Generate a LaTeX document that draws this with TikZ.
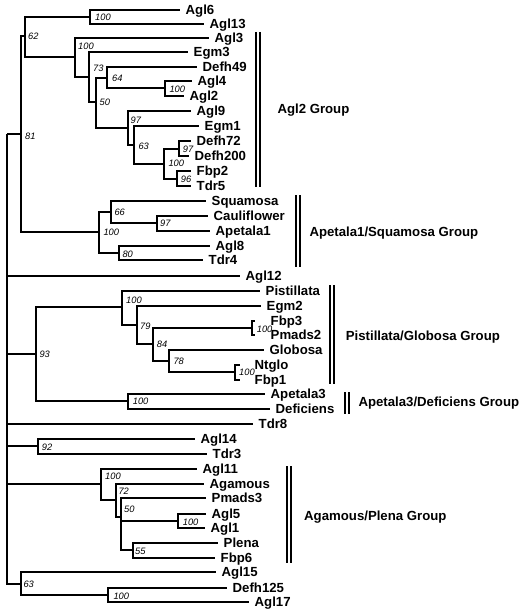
\documentclass[tikz,border=0pt]{standalone}
\usepackage{fontspec}
\setmainfont{Liberation Sans}
\begin{document}
\begin{tikzpicture}[x=1pt,y=-1pt,
  br/.style={line width=2pt, line join=miter},
  bar/.style={line width=1.8pt},
  leaf/.style={anchor=west, inner xsep=5.5pt, inner ysep=0pt, text height=9.4pt, text depth=0pt, font=\fontsize{13.2}{15}\selectfont\bfseries},
  grp/.style={anchor=west, inner sep=0pt, text height=9.4pt, text depth=0pt, font=\fontsize{13.2}{15}\selectfont\bfseries},
  bs/.style={anchor=west, inner sep=0pt, text height=6.4pt, text depth=0pt, font=\fontsize{9.3}{10}\selectfont\itshape}]
\useasboundingbox (0,0) rectangle (523,615);

% internal nodes
\coordinate (root) at (7,134);
\coordinate (n81) at (21,134);
\coordinate (n62) at (25,36);
\coordinate (n100a) at (90,17);
\coordinate (n100c) at (75,57);
\coordinate (n73) at (89,77);
\coordinate (n50a) at (96,102);
\coordinate (n64) at (107,78);
\coordinate (n100d) at (165,88);
\coordinate (n97a) at (128,128);
\coordinate (n63a) at (134,145);
\coordinate (n100e) at (164,164);
\coordinate (n97b) at (179,149);
\coordinate (n96) at (177,179);
\coordinate (n100b) at (99,232);
\coordinate (n66) at (111,212);
\coordinate (n97c) at (157,223);
\coordinate (n80) at (119,253);
\coordinate (n93) at (36,354);
\coordinate (n100f) at (122,307);
\coordinate (n79) at (137,325);
\coordinate (n84) at (153,344);
\coordinate (n100h) at (252,328);
\coordinate (n78) at (169,361);
\coordinate (n100i) at (235,372);
\coordinate (n100g) at (128,401);
\coordinate (n92) at (38,446);
\coordinate (n100j) at (101,484);
\coordinate (n72) at (116,500);
\coordinate (n50b) at (121,517);
\coordinate (n100k) at (178,521);
\coordinate (n55) at (133,550);
\coordinate (n63b) at (21,584);
\coordinate (n100l) at (108,595);

% leaves
\node[leaf] (Agl6) at (180,10) {Agl6};
\node[leaf] (Agl13) at (204,24) {Agl13};
\node[leaf] (Agl3) at (209,38) {Agl3};
\node[leaf] (Egm3) at (188,52) {Egm3};
\node[leaf] (Defh49) at (197,67) {Defh49};
\node[leaf] (Agl4) at (192,81) {Agl4};
\node[leaf] (Agl2) at (184,96) {Agl2};
\node[leaf] (Agl9) at (191,111) {Agl9};
\node[leaf] (Egm1) at (199,126) {Egm1};
\node[leaf] (Defh72) at (191,141) {Defh72};
\node[leaf] (Defh200) at (189,156) {Defh200};
\node[leaf] (Fbp2) at (191,171) {Fbp2};
\node[leaf] (Tdr5) at (191,186) {Tdr5};
\node[leaf] (Squamosa) at (206,201) {Squamosa};
\node[leaf] (Cauliflower) at (208,216) {Cauliflower};
\node[leaf] (Apetala1) at (210,231) {Apetala1};
\node[leaf] (Agl8) at (210,246) {Agl8};
\node[leaf] (Tdr4) at (203,260) {Tdr4};
\node[leaf] (Agl12) at (240,276) {Agl12};
\node[leaf] (Pistillata) at (260,291) {Pistillata};
\node[leaf] (Egm2) at (261,306) {Egm2};
\node[leaf, inner xsep=15.5pt] (Fbp3) at (255,321) {Fbp3};
\node[leaf, inner xsep=15.5pt] (Pmads2) at (255,335) {Pmads2};
\node[leaf] (Globosa) at (264,350) {Globosa};
\node[leaf, inner xsep=14.5pt] (Ntglo) at (240,365) {Ntglo};
\node[leaf, inner xsep=14.5pt] (Fbp1) at (240,380) {Fbp1};
\node[leaf] (Apetala3) at (265,394) {Apetala3};
\node[leaf] (Deficiens) at (270,409) {Deficiens};
\node[leaf] (Tdr8) at (253,424) {Tdr8};
\node[leaf] (Agl14) at (195,439) {Agl14};
\node[leaf] (Tdr3) at (207,454) {Tdr3};
\node[leaf] (Agl11) at (197,469) {Agl11};
\node[leaf] (Agamous) at (204,484) {Agamous};
\node[leaf] (Pmads3) at (206,498) {Pmads3};
\node[leaf] (Agl5) at (206,514) {Agl5};
\node[leaf] (Agl1) at (205,528) {Agl1};
\node[leaf] (Plena) at (218,543) {Plena};
\node[leaf] (Fbp6) at (215,558) {Fbp6};
\node[leaf] (Agl15) at (216,572) {Agl15};
\node[leaf] (Defh125) at (227,588) {Defh125};
\node[leaf] (Agl17) at (249,602) {Agl17};

% branches
\draw[br] (root) |- (n81);
\draw[br] (root) |- (Agl12.west);
\draw[br] (root) |- (n93);
\draw[br] (root) |- (Tdr8.west);
\draw[br] (root) |- (n92);
\draw[br] (root) |- (n100j);
\draw[br] (root) |- (n63b);

\draw[br] (n81) |- (n62);
\draw[br] (n81) |- (n100b);
\draw[br] (n62) |- (n100a);
\draw[br] (n62) |- (n100c);
\draw[br] (n100a) |- (Agl6.west);
\draw[br] (n100a) |- (Agl13.west);
\draw[br] (n100c) |- (Agl3.west);
\draw[br] (n100c) |- (n73);
\draw[br] (n73) |- (Egm3.west);
\draw[br] (n73) |- (n50a);
\draw[br] (n50a) |- (n64);
\draw[br] (n50a) |- (n97a);
\draw[br] (n64) |- (Defh49.west);
\draw[br] (n64) |- (n100d);
\draw[br] (n100d) |- (Agl4.west);
\draw[br] (n100d) |- (Agl2.west);
\draw[br] (n97a) |- (Agl9.west);
\draw[br] (n97a) |- (n63a);
\draw[br] (n63a) |- (Egm1.west);
\draw[br] (n63a) |- (n100e);
\draw[br] (n100e) |- (n97b);
\draw[br] (n100e) |- (n96);
\draw[br] (n97b) |- (Defh72.west);
\draw[br] (n97b) |- (Defh200.west);
\draw[br] (n96) |- (Fbp2.west);
\draw[br] (n96) |- (Tdr5.west);

\draw[br] (n100b) |- (n66);
\draw[br] (n100b) |- (n80);
\draw[br] (n66) |- (Squamosa.west);
\draw[br] (n66) |- (n97c);
\draw[br] (n97c) |- (Cauliflower.west);
\draw[br] (n97c) |- (Apetala1.west);
\draw[br] (n80) |- (Agl8.west);
\draw[br] (n80) |- (Tdr4.west);

\draw[br] (n93) |- (n100f);
\draw[br] (n93) |- (n100g);
\draw[br] (n100f) |- (Pistillata.west);
\draw[br] (n100f) |- (n79);
\draw[br] (n79) |- (Egm2.west);
\draw[br] (n79) |- (n84);
\draw[br] (n84) |- (n100h);
\draw[br] (n84) |- (n78);
\draw[br] (n100h) |- (Fbp3.west);
\draw[br] (n100h) |- (Pmads2.west);
\draw[br] (n78) |- (Globosa.west);
\draw[br] (n78) |- (n100i);
\draw[br] (n100i) |- (Ntglo.west);
\draw[br] (n100i) |- (Fbp1.west);
\draw[br] (n100g) |- (Apetala3.west);
\draw[br] (n100g) |- (Deficiens.west);

\draw[br] (n92) |- (Agl14.west);
\draw[br] (n92) |- (Tdr3.west);

\draw[br] (n100j) |- (Agl11.west);
\draw[br] (n100j) |- (n72);
\draw[br] (n72) |- (Agamous.west);
\draw[br] (n72) |- (n50b);
\draw[br] (n50b) |- (Pmads3.west);
\draw[br] (n50b) |- (n100k);
\draw[br] (n50b) |- (n55);
\draw[br] (n100k) |- (Agl5.west);
\draw[br] (n100k) |- (Agl1.west);
\draw[br] (n55) |- (Plena.west);
\draw[br] (n55) |- (Fbp6.west);

\draw[br] (n63b) |- (Agl15.west);
\draw[br] (n63b) |- (n100l);
\draw[br] (n100l) |- (Defh125.west);
\draw[br] (n100l) |- (Agl17.west);

% bootstrap values
\node[bs] (b100a) at (95,17) {100};
\node[bs] (b62) at (28,36.7) {62};
\node[bs] (b100c) at (78,46.7) {100};
\node[bs] (b73) at (93,68.3) {73};
\node[bs] (b64) at (112,78.3) {64};
\node[bs] (b100d) at (169.3,89.3) {100};
\node[bs] (b50a) at (99.5,102.7) {50};
\node[bs] (b97a) at (130.5,120) {97};
\node[bs] (b63a) at (138.3,146) {63};
\node[bs] (b100e) at (168.3,163.3) {100};
\node[bs] (b97b) at (182.7,149.3) {97};
\node[bs] (b96) at (180.7,179) {96};
\node[bs] (b66) at (114.3,212.3) {66};
\node[bs] (b100b) at (103.3,232.7) {100};
\node[bs] (b97c) at (160,223.3) {97};
\node[bs] (b80) at (122.3,254) {80};
\node[bs] (b81) at (25,136) {81};
\node[bs] (b100f) at (126,300.7) {100};
\node[bs] (b79) at (140,326) {79};
\node[bs] (b84) at (156.7,344.3) {84};
\node[bs] (b78) at (173.3,361.3) {78};
\node[bs] (b100h) at (256.7,329) {100};
\node[bs] (b100i) at (239,372.3) {100};
\node[bs] (b93) at (39.3,354) {93};
\node[bs] (b100g) at (132.7,401.7) {100};
\node[bs] (b92) at (41.7,447.7) {92};
\node[bs] (b100j) at (105,476.7) {100};
\node[bs] (b72) at (118.3,491.7) {72};
\node[bs] (b50b) at (124,509) {50};
\node[bs] (b100k) at (182.7,522.3) {100};
\node[bs] (b55) at (135,551.7) {55};
\node[bs] (b63b) at (23.3,584.3) {63};
\node[bs] (b100l) at (113.3,596) {100};

% group bars
\draw[bar] (256,32) -- (256,187);
\draw[bar] (259.6,32) -- (259.6,187);
\draw[bar] (296,195) -- (296,267);
\draw[bar] (299.6,195) -- (299.6,267);
\draw[bar] (330,285) -- (330,384);
\draw[bar] (333.6,285) -- (333.6,384);
\draw[bar] (345,392) -- (345,414);
\draw[bar] (348.6,392) -- (348.6,414);
\draw[bar] (287,466) -- (287,563);
\draw[bar] (290.6,466) -- (290.6,563);

\node[grp] (gAgl2) at (277.3,108.7) {Agl2 Group};
\node[grp] (gAp1) at (309.3,231.7) {Apetala1/Squamosa Group};
\node[grp] (gPist) at (345.7,335.7) {Pistillata/Globosa Group};
\node[grp] (gAp3) at (358.3,401.7) {Apetala3/Deficiens Group};
\node[grp] (gAga) at (304,516) {Agamous/Plena Group};
\end{tikzpicture}
\end{document}
